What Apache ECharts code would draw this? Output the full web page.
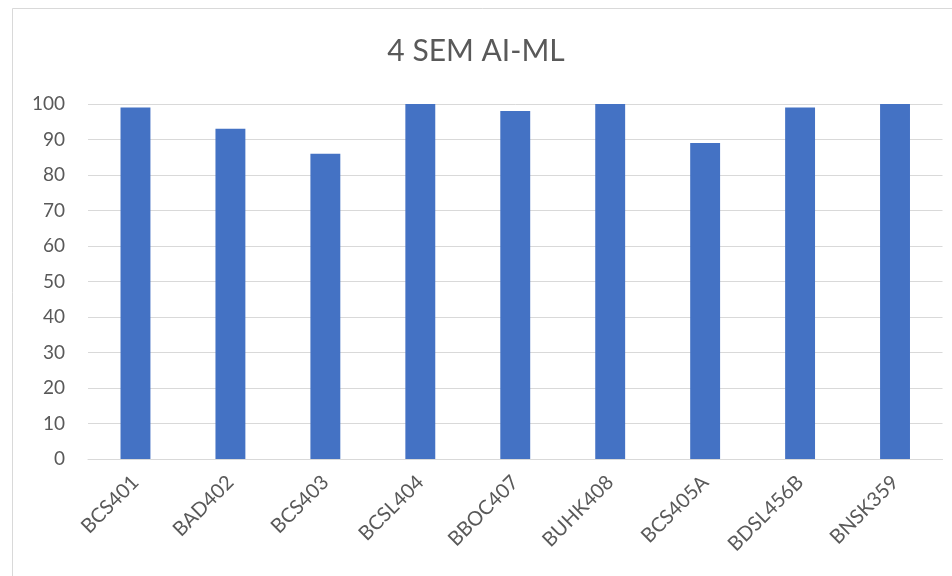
<!DOCTYPE html>
<html>
<head>
<meta charset="utf-8">
<script src="https://cdn.jsdelivr.net/npm/echarts@6/dist/echarts.min.js"></script>
<style>
html,body{margin:0;padding:0;background:#fff;}
#c{width:952px;height:576px;}
</style>
</head>
<body>
<div id="c"></div>
<script>
var categories = ['BCS401','BAD402','BCS403','BCSL404','BBOC407','BUHK408','BCS405A','BDSL456B','BNSK359'];
var values = [99, 93, 86, 100, 98, 100, 89, 99, 100];
var yTicks = {min: 0, max: 100, interval: 10};

var FONT = "Lato,'Liberation Sans',sans-serif";
var chart = echarts.init(document.getElementById('c'));
chart.setOption({
  animation: false,
  backgroundColor: '#ffffff',
  title: {
    text: '4 SEM AI-ML',
    left: 'center',
    top: 31,
    textStyle: {color: '#595959', fontSize: 30, fontWeight: 'normal', fontFamily: FONT}
  },
  graphic: [{
    type: 'rect',
    shape: {x: 12.5, y: 8.5, width: 1000, height: 700},
    style: {fill: 'none', stroke: '#d9d9d9', lineWidth: 1},
    silent: true
  }],
  grid: {left: 88, right: 9.5, top: 104, bottom: 117},
  xAxis: {
    type: 'category',
    data: categories,
    axisLine: {show: true, lineStyle: {color: '#d9d9d9', width: 1}},
    axisTick: {show: false},
    axisLabel: {rotate: 45, color: '#595959', fontSize: 20, fontFamily: FONT, margin: 20, interval: 0}
  },
  yAxis: {
    type: 'value',
    min: yTicks.min, max: yTicks.max, interval: yTicks.interval,
    axisLine: {show: false},
    axisTick: {show: false},
    splitLine: {lineStyle: {color: '#d9d9d9', width: 1}},
    axisLabel: {color: '#595959', fontSize: 19, fontFamily: FONT, margin: 23}
  },
  series: [{
    type: 'bar',
    data: values,
    barWidth: '31.5%',
    itemStyle: {color: '#4472c4'}
  }]
});
</script>
</body>
</html>
